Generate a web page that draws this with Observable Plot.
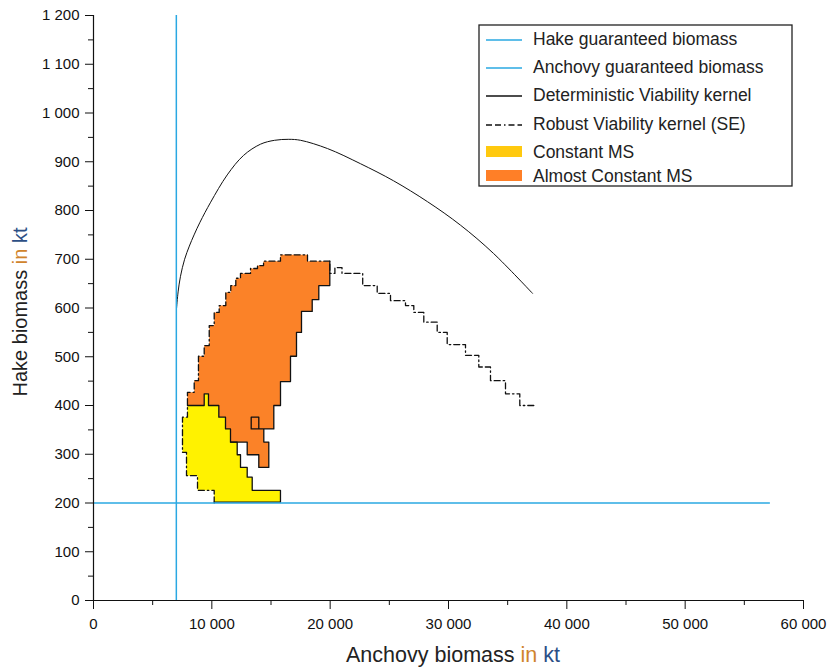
<!DOCTYPE html>
<html><head><meta charset="utf-8">
<script src="https://cdn.jsdelivr.net/npm/d3@7"></script>
<script src="https://cdn.jsdelivr.net/npm/@observablehq/plot@0.6"></script>
<style>
body{margin:0;background:#fff;}
#chart{position:relative;width:831px;height:667px;}
</style>
</head><body><div id="chart"></div>
<script>
// ---- data ----
const xMajorTicks = [0, 10000, 20000, 30000, 40000, 50000, 60000];
const xMinorTicks = [5000, 15000, 25000, 35000, 45000, 55000];
const yMajorTicks = [0, 100, 200, 300, 400, 500, 600, 700, 800, 900, 1000, 1100, 1200];
const yMinorTicks = [50, 150, 250, 350, 450, 550, 650, 750, 850, 950, 1050, 1150];

const hakeGuaranteed = 200;      // kt
const hakeLineEnd = 57200;       // x extent of the hake line
const anchovyGuaranteed = 7000;  // kt

// Deterministic viability kernel
const detX = [7020, 7150, 7350, 7700, 8100, 8500, 9000, 9900, 11300, 12680, 14110, 15300, 16500, 17500, 19780, 22560, 25350, 28230, 31010, 33800, 37100];
const detY = [600, 633, 665, 700, 727, 750, 776, 817, 873, 913, 936, 944, 946, 944, 927, 896, 861, 818, 770, 712, 630];

// Robust viability kernel (SE) - staircase boundary
const robustX = [10200,10200,8790,8790,7860,7860,7520,7520,7940,7940,8510,8510,8870,8870,9355,9355,9780,9780,10200,10200,10620,10620,11180,11180,11600,11600,12025,12025,12420,12420,13270,13270,13860,13860,14370,14370,15800,15800,18085,18085,19970,19970,20400,20400,21000,21000,22750,22750,23975,23975,25098,25098,26366,26366,27068,27068,27913,27913,29045,29045,29890,29890,31437,31437,32561,32561,33549,33549,34817,34817,36025,36025,37352];
const robustY = [200,226,226,256,256,304,304,376,376,427,427,451,451,501,501,523,523,564,564,591,591,605,605,632,632,646,646,661,661,671,671,681,681,687,687,696,696,709,709,696,696,671,671,683,683,671,671,646,646,630,630,615,615,605,605,591,591,571,571,550,550,525,525,503,503,479,479,451,451,424,424,400,400];

// Constant MS region (yellow)
const constX = [7940,9355,9355,9718,9718,10590,10590,11155,11155,11577,11577,12144,12144,12423,12423,12989,12989,13412,13412,15800,15800,10200,10200,8790,8790,7860,7860,7520,7520,7940];
const constY = [400,400,424,424,400,400,376,376,352,352,325,325,299,299,273,273,253,253,226,226,202,202,226,226,256,256,304,304,376,376];
const constSolidCount = 22;

// Almost Constant MS region (orange)
const almostX = [19970,19970,19040,19040,18482,18482,17577,17577,17155,17155,16648,16648,15803,15803,15237,15237,13327,13327,13969,13969,14392,14392,14814,14814,13969,13969,12989,12989,11577,11577,11155,11155,10590,10590,9718,9718,9355,9355,7940,7940,8510,8510,8870,8870,9355,9355,9780,9780,10200,10200,10620,10620,11180,11180,11600,11600,12025,12025,12420,12420,13270,13270,13860,13860,14370,14370,15800,15800,18085,18085];
const almostY = [696,646,646,617,617,593,593,550,550,501,501,449,449,400,400,352,352,376,376,352,352,325,325,273,273,299,299,325,325,352,352,376,376,400,400,424,424,400,400,427,427,451,451,501,501,523,523,564,564,591,591,605,605,632,632,646,646,661,661,671,671,681,681,687,687,696,696,709,709,696];
const almostSolidCount = 29;

const legendLabels = ["Hake guaranteed biomass", "Anchovy guaranteed biomass", "Deterministic Viability kernel", "Robust Viability kernel (SE)", "Constant MS", "Almost Constant MS"];

// ---- styles ----
const BLUE = "#2aa8e2";
const YELLOW = "#fff200";
const ORANGE = "#fb8228";
const LEG_YELLOW = "#ffc90e";
const LEG_ORANGE = "#ff7f27";
const DASH = "6,3,6,3,1.5,3";
const FONT = "'Liberation Sans', Arial, sans-serif";

const pts = (xs, ys) => xs.map((x, i) => ({x, y: ys[i]}));
const fmt = d => d3.format(",")(d).replace(/,/g, " ");

const det = pts(detX, detY);
const robust = pts(robustX, robustY);
const yellow = pts(constX, constY);
const orange = pts(almostX, almostY);

const plot = Plot.plot({
  width: 831, height: 667,
  marginLeft: 93, marginRight: 28, marginTop: 15, marginBottom: 67,
  style: {fontFamily: FONT, fontSize: "15px", color: "#111", background: "#fff"},
  x: {domain: [0, 60000]},
  y: {domain: [0, 1200]},
  marks: [
    Plot.line(orange, {x: "x", y: "y", fill: ORANGE, stroke: "none"}),
    Plot.line(yellow, {x: "x", y: "y", fill: YELLOW, stroke: "none"}),
    Plot.line(orange.slice(0, almostSolidCount), {x: "x", y: "y", stroke: "#111", strokeWidth: 1.3}),
    Plot.line(yellow.slice(0, constSolidCount), {x: "x", y: "y", stroke: "#111", strokeWidth: 1.3}),
    Plot.line(robust, {x: "x", y: "y", stroke: "#111", strokeWidth: 1.3, strokeDasharray: DASH}),
    Plot.line(det, {x: "x", y: "y", curve: "catmull-rom", stroke: "#111", strokeWidth: 1}),
    Plot.ruleX([anchovyGuaranteed], {y1: 0, y2: 1200, stroke: BLUE, strokeWidth: 1.5}),
    Plot.ruleY([hakeGuaranteed], {x1: 0, x2: hakeLineEnd, stroke: BLUE, strokeWidth: 1.5}),
    Plot.ruleX([0], {stroke: "#111", strokeWidth: 1.2}),
    Plot.ruleY([0], {stroke: "#111", strokeWidth: 1.2}),
    Plot.axisX({ticks: xMajorTicks, tickSize: 9, tickPadding: 9, tickFormat: fmt, label: null, fontSize: 15}),
    Plot.axisX({ticks: xMinorTicks, tickSize: 5, tickFormat: () => "", label: null}),
    Plot.axisY({ticks: yMajorTicks, tickSize: 8, tickPadding: 6, tickFormat: fmt, label: null, fontSize: 15}),
    Plot.axisY({ticks: yMinorTicks, tickSize: 5, tickFormat: () => "", label: null})
  ]
});

const svg = d3.select(plot);

// axis titles
const xt = svg.append("text").attr("x", 453).attr("y", 662).attr("text-anchor", "middle")
  .style("font-family", FONT).style("font-size", "21.5px").attr("fill", "#222");
xt.append("tspan").text("Anchovy biomass ");
xt.append("tspan").attr("fill", "#d0842c").text("in ");
xt.append("tspan").attr("fill", "#2c4f86").text("kt");

const yt = svg.append("text").attr("transform", "translate(27,312) rotate(-90)").attr("text-anchor", "middle")
  .style("font-family", FONT).style("font-size", "20px").attr("fill", "#222");
yt.append("tspan").text("Hake biomass ");
yt.append("tspan").attr("fill", "#d0842c").text("in ");
yt.append("tspan").attr("fill", "#2c4f86").text("kt");

// legend
const lg = svg.append("g").attr("text-anchor", "start");
lg.append("rect").attr("x", 479).attr("y", 25).attr("width", 313).attr("height", 161)
  .attr("fill", "#fff").attr("stroke", "#222").attr("stroke-width", 1.3);
const rowsY = [39, 67, 95, 124, 152, 176];
const sampleStyles = [
  {type: "line", stroke: BLUE},
  {type: "line", stroke: BLUE},
  {type: "line", stroke: "#111"},
  {type: "line", stroke: "#111", dash: DASH},
  {type: "rect", fill: LEG_YELLOW},
  {type: "rect", fill: LEG_ORANGE}
];
legendLabels.forEach((lab, i) => {
  const s = sampleStyles[i];
  const cy = rowsY[i];
  if (s.type === "line") {
    lg.append("line").attr("x1", 486).attr("x2", 522).attr("y1", cy + 1).attr("y2", cy + 1)
      .attr("stroke", s.stroke).attr("stroke-width", 1.4).attr("stroke-dasharray", s.dash || null);
  } else {
    lg.append("rect").attr("x", 486).attr("y", cy - 6).attr("width", 36).attr("height", 11).attr("fill", s.fill);
  }
  lg.append("text").attr("x", 533).attr("y", cy).attr("dy", "0.35em").attr("text-anchor", "start")
    .style("font-family", FONT).style("font-size", "17.5px").attr("fill", "#222").text(lab);
});

document.getElementById("chart").appendChild(plot);
</script>
</body></html>
